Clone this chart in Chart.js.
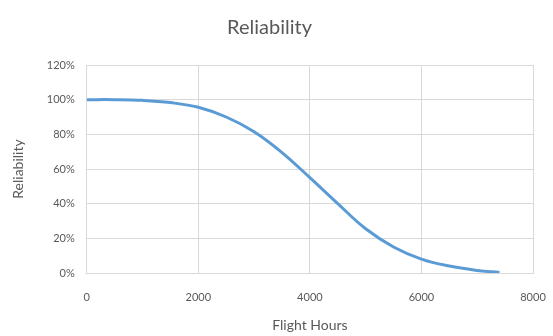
<!DOCTYPE html>
<html>
<head>
<meta charset="utf-8">
<script src="https://cdn.jsdelivr.net/npm/chart.js@4/dist/chart.umd.min.js"></script>
<style>
  html, body { margin: 0; padding: 0; background: #fff; }
  #wrap { width: 553px; height: 336px; }
</style>
</head>
<body>
<div id="wrap"><canvas id="reliabilityChart" width="553" height="336"></canvas></div>
<script>
// flight hours vs reliability (%)
const hours = [0, 500, 1000, 1500, 2000, 2500, 3000, 3500, 4000, 4500, 5000, 5500, 6000, 6500, 7000, 7400];
const reliability = [100, 100, 99.6, 98.3, 95.6, 90, 81.5, 69.5, 55, 40, 25.5, 15, 8, 4, 1.5, 0.3];
const xTicks = [0, 2000, 4000, 6000, 8000];
const yTicks = [0, 20, 40, 60, 80, 100, 120];

const textColor = '#595959';
const gridColor = '#d9d9d9';
const fontFamily = 'Lato, "Open Sans", sans-serif';

const points = hours.map((h, i) => ({ x: h, y: reliability[i] }));

new Chart(document.getElementById('reliabilityChart').getContext('2d'), {
    type: 'scatter',
    data: {
        datasets: [{
            label: 'Reliability',
            data: points,
            showLine: true,
            borderColor: '#5b9bd5',
            borderWidth: 3,
            pointRadius: 0,
            tension: 0.4,
            fill: false
        }]
    },
    options: {
        responsive: false,
        animation: false,
        layout: { padding: { left: 6, right: 20, top: 6, bottom: 0 } },
        plugins: {
            legend: { display: false },
            tooltip: { enabled: false },
            title: {
                display: true,
                text: 'Reliability',
                color: textColor,
                font: { family: fontFamily, size: 20, weight: 'normal' },
                padding: { top: 10, bottom: 25 }
            }
        },
        scales: {
            x: {
                type: 'linear',
                min: 0,
                max: 8000,
                afterBuildTicks: axis => { axis.ticks = xTicks.map(v => ({ value: v })); },
                ticks: {
                    color: textColor,
                    font: { family: fontFamily, size: 11 },
                    padding: 0,
                    callback: v => String(v)
                },
                // invisible tick marks push the labels down without widening the side overhang
                grid: { color: gridColor, tickColor: 'rgba(0,0,0,0)', tickLength: 18, lineWidth: 1 },
                border: { color: gridColor },
                title: {
                    display: true,
                    text: 'Flight Hours',
                    color: textColor,
                    font: { family: fontFamily, size: 14 },
                    padding: { top: 13, bottom: 2 }
                }
            },
            y: {
                min: 0,
                max: 120,
                afterBuildTicks: axis => { axis.ticks = yTicks.map(v => ({ value: v })); },
                ticks: {
                    color: textColor,
                    font: { family: fontFamily, size: 11 },
                    padding: 12,
                    callback: v => v + '%'
                },
                grid: { color: gridColor, drawTicks: false, lineWidth: 1 },
                border: { color: gridColor },
                title: {
                    display: true,
                    text: 'Reliability',
                    color: textColor,
                    font: { family: fontFamily, size: 14 },
                    padding: { bottom: 8 }
                }
            }
        }
    }
});
</script>
</body>
</html>
